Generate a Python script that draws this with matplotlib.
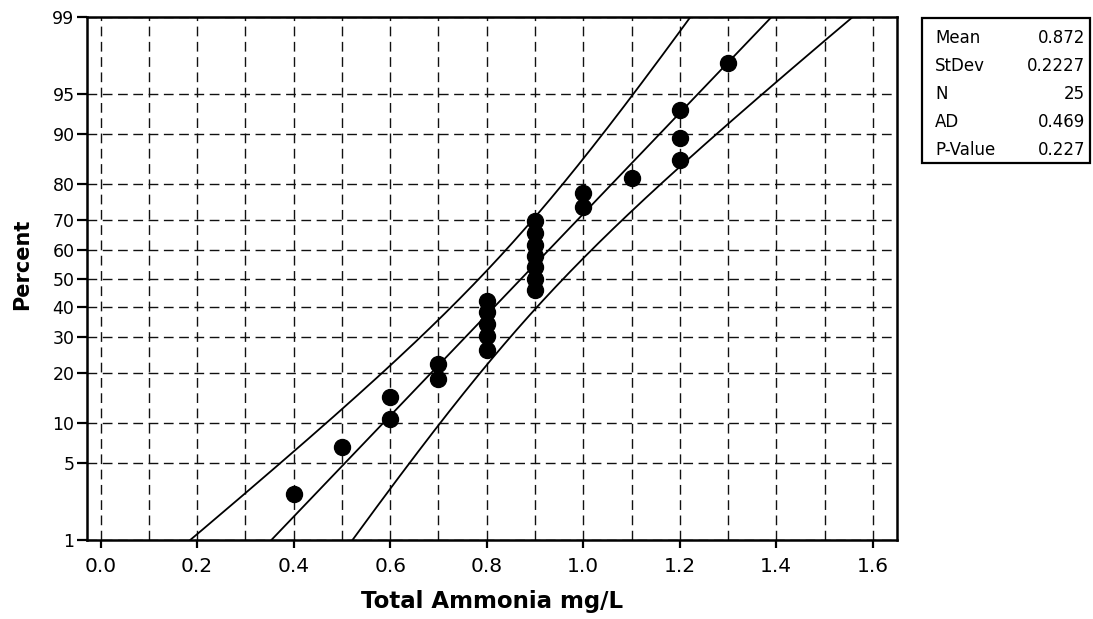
import math
from statistics import NormalDist
import numpy as np
import matplotlib
matplotlib.use("Agg")
import matplotlib.pyplot as plt
from matplotlib.patches import Rectangle

# ---------------- data ----------------
ammonia = [0.4, 0.5, 0.6, 0.6, 0.7, 0.7, 0.8, 0.8, 0.8, 0.8, 0.8,
           0.9, 0.9, 0.9, 0.9, 0.9, 0.9, 0.9, 1.0, 1.0, 1.1, 1.2, 1.2, 1.2, 1.3]
percent = [2.76, 6.69, 10.63, 14.57, 18.50, 22.44, 26.38, 30.31, 34.25, 38.19,
           42.13, 46.06, 50.00, 53.94, 57.87, 61.81, 65.75, 69.69, 73.62, 77.56,
           81.50, 85.43, 89.37, 93.31, 97.24]
stat_names = ["Mean", "StDev", "N", "AD", "P-Value"]
stat_values = ["0.872", "0.2227", "25", "0.469", "0.227"]
mean_val = 0.872
sd_val = 0.2227
n_val = 25
x_ticks = [0.0, 0.2, 0.4, 0.6, 0.8, 1.0, 1.2, 1.4, 1.6]
x_minor = [0.1, 0.3, 0.5, 0.7, 0.9, 1.1, 1.3, 1.5]
y_ticks = [1, 5, 10, 20, 30, 40, 50, 60, 70, 80, 90, 95, 99]

nd = NormalDist()


def fwd(p):
    p = np.asarray(p, dtype=float)
    flat = []
    for v in p.ravel():
        if not np.isfinite(v):
            flat.append(np.nan)
        else:
            q = min(max(v / 100.0, 1e-9), 1 - 1e-9)
            flat.append(nd.inv_cdf(q))
    return np.array(flat).reshape(p.shape)


def inv(z):
    z = np.asarray(z, dtype=float)
    flat = [50.0 * (1 + math.erf(v / math.sqrt(2))) if np.isfinite(v) else np.nan
            for v in z.ravel()]
    return np.array(flat).reshape(z.shape)


W, H = 1093, 619
fig = plt.figure(figsize=(W / 100, H / 100), dpi=100)
L, R, T, B = 87, 897, 17, 540
ax = fig.add_axes([L / W, (H - B) / H, (R - L) / W, (B - T) / H])
ax.set_yscale("function", functions=(fwd, inv))

# fitted line and 95% confidence bands
zz = np.linspace(-3.2, 3.2, 400)
pp = inv(zz)
xfit = mean_val + zz * sd_val
se = sd_val * np.sqrt((1 + zz ** 2 / 2) / n_val)
for xs in (xfit, xfit - 1.96 * se, xfit + 1.96 * se):
    ax.plot(xs, pp, color="black", lw=1.3, zorder=3)

ax.plot(ammonia, percent, "o", color="black", ms=11.5, zorder=4)

ax.set_xlim(-0.028, 1.65)
ax.set_ylim(1, 99)
ax.set_xticks(x_ticks)
ax.set_xticklabels([f"{v:.1f}" for v in x_ticks])
ax.set_xticks(x_minor, minor=True)
ax.set_yticks(y_ticks)
ax.set_yticklabels([str(v) for v in y_ticks])
ax.yaxis.set_minor_locator(matplotlib.ticker.NullLocator())
ax.tick_params(axis="x", which="major", direction="out", length=6, width=1.6,
               labelsize=14.5, pad=6)
ax.tick_params(axis="x", which="minor", length=0)
ax.tick_params(axis="y", which="major", direction="out", length=7, width=1.6,
               labelsize=12.5, pad=2)

ax.grid(True, which="both", axis="x", color="#111111", lw=1.0,
        linestyle=(0, (7, 4)))
ax.grid(True, which="major", axis="y", color="#111111", lw=1.0,
        linestyle=(0, (7, 4)))
for s in ax.spines.values():
    s.set_linewidth(1.8)

ax.set_xlabel("Total Ammonia mg/L", fontsize=16.5, fontweight="bold", labelpad=10)
ax.set_ylabel("Percent", fontsize=15, fontweight="bold")
ax.yaxis.set_label_coords((32 - L) / (R - L), (B - 264) / (B - T))

# statistics box
bx0, bx1, by0, by1 = 922, 1090, 18, 163
fig.patches.append(Rectangle((bx0 / W, 1 - by1 / H), (bx1 - bx0) / W,
                             (by1 - by0) / H, transform=fig.transFigure,
                             fill=False, edgecolor="black", lw=1.6))
rows_y = [38, 66, 94, 122, 150]
for name, val, yy in zip(stat_names, stat_values, rows_y):
    fig.text(935 / W, 1 - yy / H, name, fontsize=12, ha="left", va="center")
    fig.text(1085 / W, 1 - yy / H, val, fontsize=12, ha="right", va="center")

fig.savefig("out.png", dpi=100)
